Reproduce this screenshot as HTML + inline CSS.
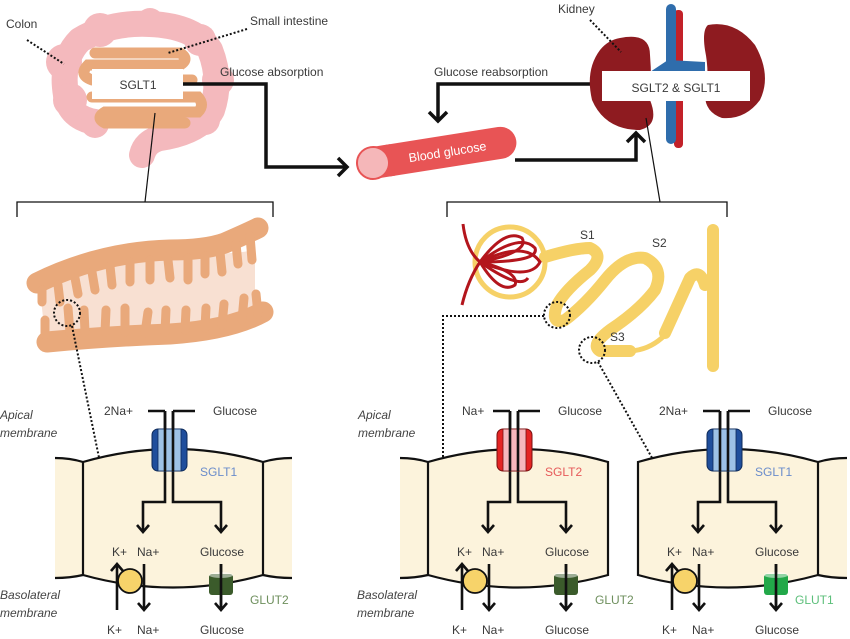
<!DOCTYPE html>
<html><head><meta charset="utf-8"><style>
html,body{margin:0;padding:0;background:#fff;}
svg{display:block;font-family:"Liberation Sans",sans-serif;}
.t{font-size:12px;fill:#3a3a3a;}
.i{font-size:12px;fill:#444;font-style:italic;}
.k{stroke:#111;stroke-width:2.6;fill:none;}
.d{stroke:#111;stroke-width:2;fill:none;stroke-dasharray:2 2;}
</style></head><body>
<svg width="850" height="639" viewBox="0 0 850 639" xmlns="http://www.w3.org/2000/svg">
<defs>
<g id="cellbase">
  <path d="M83,462 Q173,436 263,462 L263,575 Q173,600 83,575 Z" fill="#fcf3dc" stroke="#111" stroke-width="2.2"/>
  <g class="k">
    <path d="M165,411 L165,502 L143,502 L143,532"/>
    <path d="M137,525 L143,532 L149,525"/>
    <path d="M173,411 L173,502 L221,502 L221,532"/>
    <path d="M215,525 L221,532 L227,525"/>
    <path d="M148,411 L165,411"/><path d="M173,411 L195,411"/>
    <path d="M117,610 L117,564"/><path d="M111,571 L117,564 L123,571"/>
    <path d="M144,564 L144,610"/><path d="M138,603 L144,610 L150,603"/>
    <path d="M221,564 L221,610"/><path d="M215,603 L221,610 L227,603"/>
  </g>
  <circle cx="130" cy="581" r="12" fill="#f7d36a" stroke="#111" stroke-width="1.8"/>
  <text class="t" x="112" y="556">K+</text><text class="t" x="137" y="556">Na+</text><text class="t" x="200" y="556">Glucose</text>
  <text class="t" x="107" y="634">K+</text><text class="t" x="137" y="634">Na+</text><text class="t" x="200" y="634">Glucose</text>
  <text class="t" x="213" y="415">Glucose</text>
</g>
<g id="lneigh"><path d="M55,458 Q70,458 83,462 L83,575 Q70,578 55,578 Z" fill="#fcf3dc"/><path d="M55,458 Q70,458 83,462 M83,575 Q70,578 55,578" stroke="#111" stroke-width="2.2" fill="none"/></g>
<g id="rneigh"><path d="M263,462 Q276,458 292,458 L292,578 Q276,578 263,575 Z" fill="#fcf3dc"/><path d="M263,462 Q276,458 292,458 M292,578 Q276,578 263,575" stroke="#111" stroke-width="2.2" fill="none"/></g>
</defs>

<!-- colon -->
<g fill="none" stroke="#f4b9bd" stroke-linecap="round" stroke-linejoin="round" stroke-width="26">
<path d="M95,122 Q70,118 66,95 Q60,60 80,40 Q110,22 150,24 Q195,26 210,50 Q222,80 212,110 Q200,132 160,138 Q145,142 142,155"/>
</g>
<g fill="#f4b9bd"><circle cx="64" cy="62" r="18"/><circle cx="70" cy="100" r="17"/><circle cx="95" cy="124" r="14"/><circle cx="100" cy="30" r="17"/><circle cx="150" cy="22" r="14"/><circle cx="200" cy="40" r="16"/><circle cx="218" cy="80" r="16"/><circle cx="205" cy="120" r="15"/><circle cx="145" cy="150" r="12"/></g>
<!-- small intestine -->
<g fill="none" stroke="#e9a97b" stroke-linecap="round" stroke-width="11">
<path d="M95,53 L180,53 Q190,59 180,65 L88,65 Q78,75 92,80"/>
<path d="M183,80 L192,80"/>
<path d="M92,97 L198,97 Q205,105 198,112 L105,112 Q95,118 105,123 L185,123"/>
</g>
<rect x="92" y="69" width="91" height="30" fill="#fff"/>
<text class="t" x="138" y="89" text-anchor="middle">SGLT1</text>
<text class="t" x="6" y="28">Colon</text>
<path class="d" d="M27,40 L64,64"/>
<text class="t" x="250" y="25">Small intestine</text>
<path class="d" d="M247,29 L168,53"/>
<text class="t" x="220" y="76">Glucose absorption</text>
<path d="M183,84 L266,84 L266,167 L345,167" stroke="#111" stroke-width="3.5" fill="none"/>
<path d="M338,158 L347,167 L338,176" stroke="#111" stroke-width="3.5" fill="none"/>
<path d="M155,113 L145,202" stroke="#111" stroke-width="1.2"/>
<path d="M17,217 L17,202 L273,202 L273,217" stroke="#111" stroke-width="1.3" fill="none"/>

<!-- intestine cross-section -->
<path d="M40,290 Q100,258 170,255 Q230,255 255,250 L255,318 Q180,325 120,330 Q70,332 45,336 Z" fill="#f8e0d2"/>
<g fill="none" stroke="#e9a97b" stroke-linecap="round" stroke-width="21">
<path d="M37,283 Q100,252 170,250 Q205,250 225,243 Q250,232 258,228"/>
<path d="M47,342 Q110,336 170,334 Q230,330 263,312"/>
</g>
<g fill="none" stroke="#e9a97b" stroke-linecap="round" stroke-width="9">
<path d="M42,290 L42,302 M58,285 L60,302 M75,278 L78,294 M92,272 L95,290 M110,266 L112,285 M130,262 L130,282 M150,260 L150,280 M168,260 L170,278 M188,258 L188,280 M205,256 L205,274 M220,252 L222,272 M236,244 L238,264 M250,236 L252,260"/>
<path d="M45,335 L45,320 M70,333 L68,308 M85,332 L84,310 M105,332 L106,310 M125,332 L125,308 M145,333 L148,312 M165,332 L166,310 M185,330 L186,310 M205,328 L206,308 M222,325 L224,304 M242,320 L244,298 M258,314 L256,294"/>
</g>
<circle cx="67" cy="313" r="13" class="d"/>
<path class="d" d="M72,326 L104,482"/>

<!-- blood glucose -->
<g transform="translate(373,163) rotate(-9)">
<rect x="0" y="-16" width="145" height="32" rx="16" fill="#e85455"/>
<rect x="0" y="-16" width="20" height="32" fill="#e85455"/>
<circle cx="0" cy="0" r="16" fill="#f5b7b9" stroke="#e85455" stroke-width="2"/>
<text x="36" y="5" font-size="12.5" fill="#fff">Blood glucose</text>
</g>
<path d="M515,160 L636,160 L636,135" stroke="#111" stroke-width="3.5" fill="none"/>
<path d="M627,142 L636,133 L645,142" stroke="#111" stroke-width="3.5" fill="none"/>
<path d="M590,84 L438,84 L438,120" stroke="#111" stroke-width="3.5" fill="none"/>
<path d="M429,112 L438,121 L447,112" stroke="#111" stroke-width="3.5" fill="none"/>
<text class="t" x="434" y="76">Glucose reabsorption</text>

<!-- kidney -->
<path d="M620,38 Q650,32 650,55 Q652,80 650,100 Q660,125 640,130 Q605,130 592,100 Q585,70 600,50 Q608,40 620,38 Z" fill="#8e1b20"/>
<path d="M708,25 Q735,20 755,45 Q772,75 760,100 Q745,120 722,118 Q705,112 705,95 Q710,75 705,50 Q702,30 708,25 Z" fill="#8e1b20"/>
<rect x="674" y="10" width="9" height="138" rx="4" fill="#c22129"/>
<rect x="666" y="4" width="10" height="140" rx="5" fill="#2f6dac"/>
<path d="M650,72 L668,60 L705,62 L705,72 Z" fill="#2f6dac"/>
<rect x="602" y="71" width="148" height="30" fill="#fff"/>
<text class="t" x="676" y="92" text-anchor="middle">SGLT2 &amp; SGLT1</text>
<text class="t" x="558" y="13">Kidney</text>
<path class="d" d="M590,20 L621,52"/>
<path d="M646,118 L660,202" stroke="#111" stroke-width="1.2"/>
<path d="M447,217 L447,202 L727,202 L727,217" stroke="#111" stroke-width="1.3" fill="none"/>

<!-- nephron -->
<g fill="none" stroke="#f6d167" stroke-linecap="round" stroke-linejoin="round">
<circle cx="510" cy="262" r="35" stroke-width="5"/>
<path d="M545,257 Q575,248 590,248 Q605,255 590,270 Q565,290 557,305 Q550,325 565,320 Q585,305 605,280 Q625,255 645,258 Q665,268 655,290 Q640,310 610,330 Q590,345 600,351 L630,351" stroke-width="12"/>
<path d="M630,351 Q650,350 665,335" stroke-width="5"/>
<path d="M665,333 Q680,300 690,278 Q700,268 705,285" stroke-width="12"/>
<path d="M713,230 L713,366" stroke-width="12"/>
</g>
<g fill="none" stroke="#b3151c" stroke-width="3">
<path d="M463,224 Q466,250 480,262 Q468,280 462,305"/>
<path d="M480,262 Q520,232 535,248 Q540,262 480,262 Q525,240 540,262 Q530,282 480,262 Q520,290 528,278 Q520,290 480,262"/>
<path d="M480,262 Q505,228 522,238 Q530,252 480,262 M480,262 Q500,295 515,285 Q520,272 480,262"/>
</g>
<text class="t" x="580" y="239">S1</text><text class="t" x="652" y="247">S2</text><text class="t" x="610" y="341">S3</text>
<circle cx="557" cy="315" r="13" class="d"/>
<path class="d" d="M544,316 L443,316 L443,493"/>
<circle cx="592" cy="350" r="13" class="d"/>
<path class="d" d="M598,362 L660,472"/>

<!-- cell 1 -->
<use href="#lneigh"/><use href="#rneigh"/><use href="#cellbase"/>
<rect x="152" y="429" width="35" height="42" rx="6" fill="#1f4e9c" stroke="#0d2a5a" stroke-width="1"/>
<rect x="158" y="429" width="23" height="42" fill="#9dc1e6" stroke="#0d2a5a" stroke-width="0.8"/>
<path d="M165,411 L165,471 M173,411 L173,471" stroke="#111" stroke-width="2.6"/>
<text class="t" x="104" y="415">2Na+</text>
<text x="200" y="476" font-size="12" fill="#6a8ccb">SGLT1</text>
<rect x="209" y="574" width="24" height="21" rx="3" fill="#3b5b2b"/><ellipse cx="221" cy="575" rx="12" ry="3" fill="#fff" opacity=".5"/>
<path class="k" d="M221,564 L221,610"/>
<text x="250" y="604" font-size="12" fill="#6e8f5d">GLUT2</text>

<!-- cell 2 -->
<g transform="translate(345,0)">
<use href="#lneigh"/><use href="#cellbase"/>
<rect x="152" y="429" width="35" height="42" rx="6" fill="#e42524" stroke="#7a1010" stroke-width="1"/>
<rect x="158" y="429" width="23" height="42" fill="#f6b8bd" stroke="#7a1010" stroke-width="0.8"/>
<path d="M165,411 L165,471 M173,411 L173,471" stroke="#111" stroke-width="2.6"/>
<text class="t" x="117" y="415">Na+</text>
<text x="200" y="476" font-size="12" fill="#e65a5a">SGLT2</text>
<rect x="209" y="574" width="24" height="21" rx="3" fill="#3b5b2b"/><ellipse cx="221" cy="575" rx="12" ry="3" fill="#fff" opacity=".5"/>
<path class="k" d="M221,564 L221,610"/>
<text x="250" y="604" font-size="12" fill="#6e8f5d">GLUT2</text>
</g>

<!-- cell 3 -->
<g transform="translate(555,0)">
<use href="#rneigh"/><use href="#cellbase"/>
<rect x="152" y="429" width="35" height="42" rx="6" fill="#1f4e9c" stroke="#0d2a5a" stroke-width="1"/>
<rect x="158" y="429" width="23" height="42" fill="#9dc1e6" stroke="#0d2a5a" stroke-width="0.8"/>
<path d="M165,411 L165,471 M173,411 L173,471" stroke="#111" stroke-width="2.6"/>
<text class="t" x="104" y="415">2Na+</text>
<text x="200" y="476" font-size="12" fill="#6a8ccb">SGLT1</text>
<rect x="209" y="574" width="24" height="21" rx="3" fill="#22a849"/><ellipse cx="221" cy="575" rx="12" ry="3" fill="#fff" opacity=".5"/>
<path class="k" d="M221,564 L221,610"/>
<text x="240" y="604" font-size="12" fill="#5cbf7a">GLUT1</text>
</g>

<text class="i" x="0" y="419">Apical</text><text class="i" x="0" y="437">membrane</text>
<text class="i" x="0" y="599">Basolateral</text><text class="i" x="0" y="617">membrane</text>
<text class="i" x="358" y="419">Apical</text><text class="i" x="358" y="437">membrane</text>
<text class="i" x="357" y="599">Basolateral</text><text class="i" x="357" y="617">membrane</text>
</svg>
</body></html>
